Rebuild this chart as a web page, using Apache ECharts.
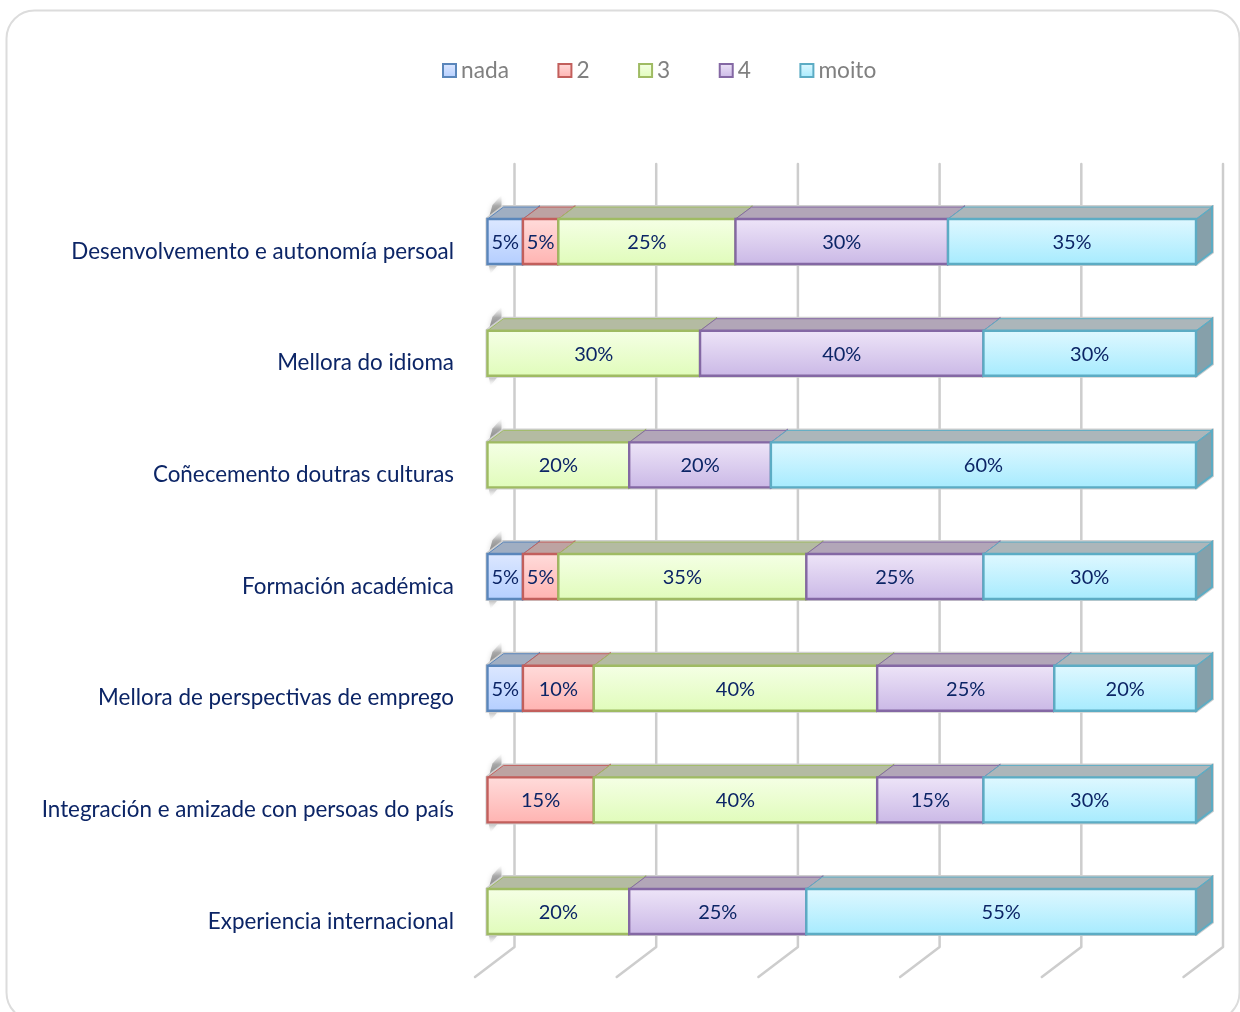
<!DOCTYPE html>
<html>
<head>
<meta charset="utf-8">
<title>Valoración</title>
<script src="https://cdn.jsdelivr.net/npm/echarts@6/dist/echarts.min.js"></script>
<style>
html,body{margin:0;padding:0;background:#fff;overflow:hidden}
#chart{width:1240px;height:1012px}
</style>
</head>
<body>
<div id="chart"></div>
<script>
var categories = [
	'Desenvolvemento e autonomía persoal',
	'Mellora do idioma',
	'Coñecemento doutras culturas',
	'Formación académica',
	'Mellora de perspectivas de emprego',
	'Integración e amizade con persoas do país',
	'Experiencia internacional'
];
var seriesNames = ['nada', '2', '3', '4', 'moito'];
var nada  = [5, 0, 0, 5, 5, 0, 0];
var dous  = [5, 0, 0, 5, 10, 15, 0];
var tres  = [25, 30, 20, 35, 40, 40, 20];
var catro = [30, 40, 20, 25, 25, 15, 25];
var moito = [35, 30, 60, 30, 20, 30, 55];
var xTicks = [0, 20, 40, 60, 80, 100];

var fontName = 'Lato';
var values = [nada, dous, tres, catro, moito];
//borde, degradado frontal, cara superior
var looks = [
	{line: '#5a86bb', from: '#dde8ff', to: '#b4ceff', top: '#a0aec2'},
	{line: '#c25f5c', from: '#ffdcdb', to: '#ffb3b1', top: '#bda3a2'},
	{line: '#9fbb63', from: '#f5ffe6', to: '#e0fcba', top: '#b4bba2'},
	{line: '#8468a4', from: '#eee5f8', to: '#cab8e6', top: '#b2a6b8'},
	{line: '#5cacc4', from: '#e0f8ff', to: '#a6ebfe', top: '#acb6ba'}
];
var barHalf = 22.5, depthX = 16, depthY = 12;

function faceGrad(look) {
	return new echarts.graphic.LinearGradient(0, 0, 0, 1, [
		{offset: 0, color: look.from},
		{offset: 1, color: look.to}
	]);
}

//paredes do fondo: liñas verticais e o seu pé en diagonal
function renderWall(params, api) {
	var cs = params.coordSys;
	var x = api.coord([api.value(0), 0])[0];
	return {
		type: 'polyline',
		shape: {points: [
			[x + 27, cs.y - 21.7],
			[x + 27, cs.y + cs.height - 20.4],
			[x - 12.5, cs.y + cs.height + 9.6]
		]},
		style: {fill: 'none', stroke: '#cdcdcd', lineWidth: 2.5, lineCap: 'round', lineJoin: 'round'},
		silent: true
	};
}

//sombra e bordo gris de cada barra
function renderHalo(params, api) {
	var row = api.value(0);
	var a = api.coord([0, row]);
	var b = api.coord([100, row]);
	var top = a[1] - barHalf, bottom = a[1] + barHalf;
	return {
		type: 'group',
		silent: true,
		children: [
			{
				type: 'polygon',
				shape: {points: [[a[0] + 1, top], [a[0] + 14, top - 12], [a[0] + 14, top - 24], [a[0] + 5, top - 14]]},
				style: {
					fill: new echarts.graphic.LinearGradient(0, 1, 0, 0, [
						{offset: 0, color: 'rgba(100,100,100,0.8)'},
						{offset: 0.55, color: 'rgba(130,130,130,0.6)'},
						{offset: 1, color: 'rgba(200,200,200,0)'}
					]),
					shadowBlur: 5,
					shadowColor: 'rgba(150,150,150,0.6)'
				}
			},
			{
				type: 'polygon',
				shape: {points: [[a[0] + 1, bottom], [a[0] + 11, bottom], [a[0] + 3, bottom + 10]]},
				style: {
					fill: new echarts.graphic.LinearGradient(0, 0, 0, 1, [
						{offset: 0, color: 'rgba(130,130,130,0.6)'},
						{offset: 1, color: 'rgba(210,210,210,0)'}
					]),
					shadowBlur: 4,
					shadowColor: 'rgba(170,170,170,0.5)'
				}
			},
			{
				type: 'polygon',
				shape: {points: [
					[a[0], top], [a[0] + depthX, top - depthY], [b[0] + depthX, top - depthY],
					[b[0] + depthX, bottom - depthY], [b[0], bottom], [a[0], bottom]
				]},
				style: {fill: 'none', stroke: '#cfcfcf', lineWidth: 4}
			}
		]
	};
}

function renderSegment(params, api) {
	var look = looks[params.seriesIndex - 2];
	var row = api.value(0);
	var start = api.coord([api.value(1), row]);
	var end = api.coord([api.value(2), row]);
	var val = api.value(3);
	var top = start[1] - barHalf, bottom = start[1] + barHalf;
	var x0 = start[0], x1 = end[0];
	if (!val) {
		return null;
	}
	return {
		type: 'group',
		children: [
			{
				type: 'polygon',
				shape: {points: [[x1, top], [x1 + depthX, top - depthY], [x1 + depthX, bottom - depthY], [x1, bottom]]},
				style: {fill: '#86a0aa', stroke: look.line, lineWidth: 2}
			},
			{
				type: 'polygon',
				shape: {points: [[x0, top], [x0 + depthX, top - depthY], [x1 + depthX, top - depthY], [x1, top]]},
				style: {fill: look.top, stroke: look.line, lineWidth: 1}
			},
			{
				type: 'rect',
				shape: {x: x0, y: top, width: x1 - x0, height: bottom - top},
				style: {fill: faceGrad(look), stroke: look.line, lineWidth: 2.4}
			},
			{
				type: 'text',
				x: (x0 + x1) / 2,
				y: start[1] + 1,
				style: {
					text: val + '%',
					fill: '#0c2566',
					font: '20px ' + fontName,
					align: 'center',
					verticalAlign: 'middle'
				}
			}
		]
	};
}

//series apiladas
var cumulative = categories.map(function () { return 0; });
var stackSeries = seriesNames.map(function (name, s) {
	var data = categories.map(function (c, i) {
		var from = cumulative[i];
		cumulative[i] += values[s][i];
		return [i, from, cumulative[i], values[s][i]];
	});
	return {
		name: name,
		type: 'custom',
		renderItem: renderSegment,
		encode: {y: 0, x: [1, 2]},
		clip: false,
		itemStyle: {color: looks[s].to, borderColor: looks[s].line},
		data: data
	};
});

var chart = echarts.init(document.getElementById('chart'));
chart.setOption({
	backgroundColor: '#fff',
	animation: false,
	legend: {
		left: 442,
		top: 59,
		padding: 0,
		icon: 'rect',
		itemWidth: 13,
		itemHeight: 13,
		itemGap: 48.5,
		data: seriesNames.map(function (name, s) {
			return {
				name: name,
				itemStyle: {color: faceGrad(looks[s]), borderColor: looks[s].line, borderWidth: 2}
			};
		}),
		textStyle: {color: '#808080', fontFamily: fontName, fontSize: 22.7}
	},
	grid: {left: 487.5, right: 44, top: 185.7, height: 781.7},
	xAxis: {type: 'value', min: 0, max: 100, interval: 20, show: false},
	yAxis: {
		type: 'category',
		inverse: true,
		data: categories,
		axisLine: {show: false},
		axisTick: {show: false},
		axisLabel: {
			margin: 33.5,
			color: '#0c2566',
			fontFamily: fontName,
			fontSize: 22.4,
			verticalAlign: 'top',
			lineHeight: 20
		}
	},
	graphic: [{
		type: 'rect',
		silent: true,
		z: -10,
		shape: {x: 6.5, y: 10.5, width: 1233, height: 1010, r: 28},
		style: {fill: '#fff', stroke: '#dcdcdc', lineWidth: 2}
	}],
	series: [
		{
			type: 'custom',
			renderItem: renderWall,
			encode: {x: 0, y: 1},
			clip: false,
			silent: true,
			data: xTicks.map(function (t) { return [t, 0]; })
		},
		{
			type: 'custom',
			renderItem: renderHalo,
			encode: {y: 0},
			clip: false,
			silent: true,
			data: categories.map(function (c, i) { return [i]; })
		}
	].concat(stackSeries)
});
</script>
</body>
</html>
